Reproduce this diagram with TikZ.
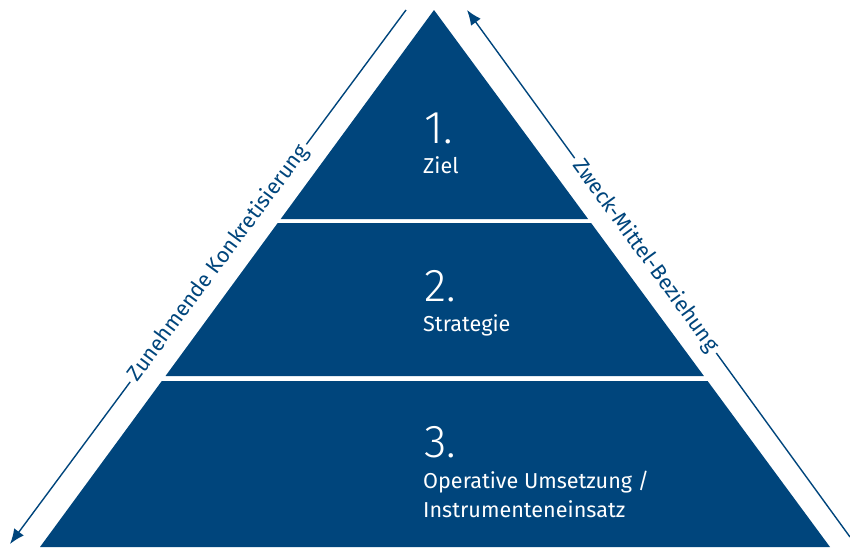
\documentclass[tikz,border=0pt]{standalone}
\usepackage{fontspec}
\setmainfont{Fira Sans}
\newfontfamily\numfont{Fira Sans}[UprightFont={* Light}]
\usetikzlibrary{arrows.meta}
\definecolor{bmblue}{RGB}{0,69,124}
\begin{document}
\begin{tikzpicture}[x=1pt,y=-1pt,
  band/.style={fill=bmblue, draw=none},
  num/.style={text=white, anchor=base west, inner sep=0pt, font=\numfont\fontsize{46}{46}\selectfont},
  lbl/.style={text=white, anchor=base west, inner sep=0pt, font=\fontsize{21.6}{24}\selectfont},
  side/.style={text=bmblue, font=\fontsize{21.5}{24}\selectfont, sloped, inner xsep=4pt, inner ysep=0pt},
  arr/.style={draw=bmblue, line width=1.4pt},
  tip/.style={-{Latex[length=15pt,width=12pt]}}]
\useasboundingbox (0,0) rectangle (850,547);
% pyramid bands
\fill[band] (434,10) -- (588.1,219) -- (280.7,219) -- cycle;
\fill[band] (277.7,223) -- (591.1,223) -- (703.9,376) -- (165.5,376) -- cycle;
\fill[band] (161.8,381) -- (707.6,381) -- (830,547) -- (40,547) -- cycle;
% texts
\node[num] (n1) at (424,143) {1.};
\node[lbl] (t1) at (423,173) {Ziel};
\node[num] (n2) at (424,301) {2.};
\node[lbl] (t2) at (423,331) {Strategie};
\node[num] (n3) at (424,457) {3.};
\node[lbl] (t3a) at (423,488) {Operative Umsetzung /};
\node[lbl] (t3b) at (423,517) {Instrumenteneinsatz};
% side arrows
\coordinate (L1) at (406,10);
\coordinate (L2) at (10,544);
\coordinate (R1) at (467,10);
\coordinate (R2) at (850,537);
\path (L2) -- node[side, pos=0.526] (lt) {Zunehmende Konkretisierung} (L1);
\path (R1) -- node[side, pos=0.466] (rt) {Zweck-Mittel-Beziehung} (R2);
\draw[arr] (L1) -- (lt.east);
\draw[arr, tip] (lt.west) -- (L2);
\draw[arr, tip] (rt.west) -- (R1);
\draw[arr] (rt.east) -- (R2);
\end{tikzpicture}
\end{document}
